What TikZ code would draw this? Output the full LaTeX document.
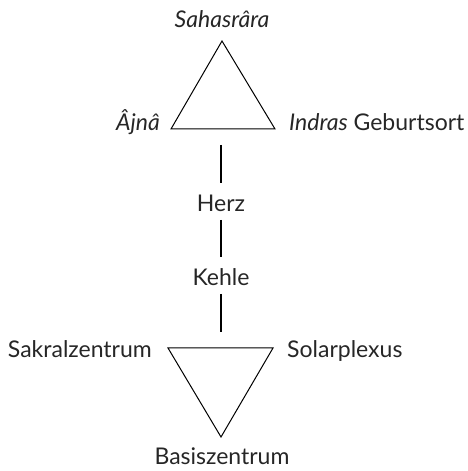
\documentclass[tikz,border=0pt]{standalone}
\usepackage{fontspec}
\setmainfont{Lato}
\begin{document}
\begin{tikzpicture}[x=1pt,y=1pt,
  lbl/.style={inner sep=0pt,font=\fontsize{23}{26}\selectfont,text=black!85},
  tri/.style={line width=1pt,line join=miter},
  bar/.style={line width=1.6pt}]
\useasboundingbox (0,0) rectangle (468,471);
% top triangle
\coordinate (A) at (222,430);
\coordinate (L) at (171,342);
\coordinate (R) at (275,342);
\draw[tri] (A) -- (L) -- (R) -- cycle;
% bottom triangle
\coordinate (BL) at (168,123);
\coordinate (BR) at (273,123);
\coordinate (BA) at (221,34);
\draw[tri] (BL) -- (BR) -- (BA) -- cycle;
% labels
\node[lbl,anchor=base] (sah) at (222,443) {\itshape Sahasrâra};
\node[lbl,anchor=base east] (ajna) at (160,340) {\itshape Âjnâ};
\node[lbl,anchor=base west] (indras) at (289,340) {\textit{Indras} Geburtsort};
\node[lbl,anchor=base] (herz) at (221,259) {Herz};
\node[lbl,anchor=base] (kehle) at (221,185) {Kehle};
\node[lbl,anchor=base east] (sakral) at (152,113) {Sakralzentrum};
\node[lbl,anchor=base west] (solar) at (287,113) {Solarplexus};
\node[lbl,anchor=base] (basis) at (222,6) {Basiszentrum};
% bars
\coordinate (t1) at (221,326); \coordinate (b1) at (221,288);
\coordinate (t2) at (221,251); \coordinate (b2) at (221,214);
\coordinate (t3) at (221,177); \coordinate (b3) at (221,139);
\draw[bar] (t1) -- (b1);
\draw[bar] (t2) -- (b2);
\draw[bar] (t3) -- (b3);
\end{tikzpicture}
\end{document}
